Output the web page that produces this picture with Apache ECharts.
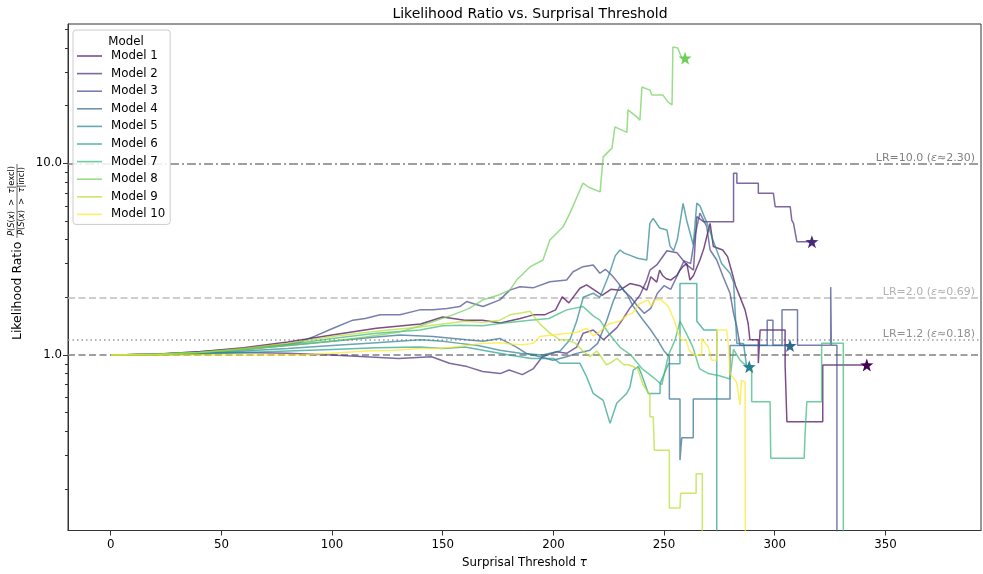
<!DOCTYPE html>
<html>
<head>
<meta charset="utf-8">
<script src="https://cdn.jsdelivr.net/npm/echarts@6/dist/echarts.min.js"></script>
<style>
  html, body { margin: 0; padding: 0; background: #ffffff; }
  #chart { width: 983px; height: 574px; }
</style>
</head>
<body>
<div id="chart"></div>
<script>
const FONT = '"DejaVu Sans", sans-serif';

// ---- data -------------------------------------------------------------
const modelNames = ['Model 1', 'Model 2', 'Model 3', 'Model 4', 'Model 5',
                    'Model 6', 'Model 7', 'Model 8', 'Model 9', 'Model 10'];
const modelColors = ['#440154', '#482878', '#3e4989', '#31688e', '#26828e',
                     '#1f9e89', '#35b779', '#6ece58', '#b5de2b', '#fde725'];

// [threshold tau, likelihood ratio]; a ratio of 0 means no excluded samples remain
const model1 = [[0,1],[20,1.01],[40,1.04],[60,1.09],[80,1.17],[100,1.27],[120,1.38],[140,1.45],[150,1.58],[160,1.52],[168,1.52],[176,1.47],[185,1.55],[191,1.62],[196,1.62],[201,1.72],[204,2.01],[207,1.87],[212,2.23],[215,2.32],[219.6,2.14],[222,2.05],[226,2.2],[230,2.18],[234.6,2.36],[239,2.3],[242.2,2.18],[244,2.56],[246.7,2.4],[248,2.77],[249.3,2.6],[251,2.5],[253,2.46],[255.8,2.6],[257.2,2.77],[258.6,2.9],[260.3,3.0],[261.7,2.46],[263.3,2.6],[266.2,3.13],[268,3.6],[269.3,4.15],[270.8,4.86],[272.3,3.68],[276.5,3.53],[278.7,3.26],[280.8,2.67],[282.3,2.3],[284.3,2.01],[286.6,1.72],[288,1.46],[288.8,1.2],[292.6,1.2],[292.6,0.905],[293.4,0.905],[293.4,1.35],[304.7,1.35],[304.7,0.887],[305.5,0.887],[305.5,0.449],[321.7,0.449],[321.7,0.887],[341.6,0.887]];
const model2 = [[0,1],[20,1.01],[40,1.02],[60,1.03],[80,1.02],[100,1.0],[115,0.98],[130,0.96],[145,0.98],[153,0.905],[161,0.87],[168,0.82],[176,0.8],[180,0.835],[186,0.79],[191,0.85],[195,0.98],[201.5,1.04],[206,1.02],[210.5,1.1],[213.5,1.3],[218,1.35],[219.6,1.3],[222.6,1.2],[228.7,1.39],[231.7,1.56],[234.6,1.76],[239.1,2.05],[242.2,2.46],[243.6,2.77],[246.7,2.95],[251.3,3.5],[255.8,3.42],[260.3,2.95],[263.3,2.77],[264.8,5.27],[267.8,4.96],[281.4,4.96],[281.4,8.87],[282.9,8.87],[282.9,7.87],[292.6,7.87],[292.6,6.98],[299.4,6.98],[300.2,5.94],[307,5.94],[307.7,5.06],[308.5,4.86],[310,3.9],[316.8,3.9]];
const model3 = [[0,1],[20,1.01],[40,1.04],[60,1.08],[80,1.14],[85.6,1.17],[92,1.25],[100.5,1.38],[109.4,1.52],[115,1.55],[121.7,1.62],[130.7,1.62],[139.6,1.72],[145.6,1.72],[152,1.75],[157.7,1.79],[160.8,1.9],[164,1.85],[168.2,1.79],[175.8,1.94],[180.3,2.18],[184.9,2.27],[190.8,2.24],[198.4,2.41],[206,2.46],[208.9,2.72],[213.4,2.89],[218,2.95],[221,2.67],[223.5,2.8],[226.5,2.6],[229,2.4],[232,2.15],[235,2.0],[238,1.8],[241,1.65],[244,1.75],[247,2.1],[250,2.3],[253,2.2],[256,2.6],[259,3.1],[262,3.0],[264,4.2],[266.2,5.5],[269.3,4.67],[270.8,3.53],[273.8,3.13],[276.7,2.56],[279.8,2.1],[281.4,1.65],[282.9,1.4],[284.3,1.124],[296.6,1.124],[296.6,1.52],[299.2,1.52],[299.2,1.124],[303.3,1.124],[303.3,1.72],[310.3,1.72],[310.3,1.124],[325.3,1.124],[325.3,2.26],[325.6,1.124],[328.1,1.124],[328.1,0]];
const model4 = [[0,1],[20,1.01],[40,1.03],[60,1.07],[80,1.12],[100,1.18],[120,1.24],[130.7,1.27],[145.6,1.25],[160.8,1.2],[168.2,1.18],[175.8,1.22],[183.3,1.1],[187.8,1.02],[193.9,0.98],[199.8,0.94],[206,0.98],[210.5,1.02],[216.5,1.06],[220,1.15],[224,1.5],[227,1.9],[230,2.3],[233,2.1],[236,1.8],[240,1.55],[244,1.35],[247,1.2],[250,1.05],[252.4,0.98],[252.4,0.59],[257.2,0.59],[257.2,0.283],[258,0.283],[258,0.37],[263.2,0.37],[263.2,0.59],[279.8,0.59],[279.8,1.12],[306.9,1.12]];
const model5 = [[0,1],[20,1.0],[40,1.02],[60,1.05],[80,1.08],[100,1.12],[120,1.16],[140,1.2],[150,1.18],[157.7,1.15],[166,1.12],[175.8,1.06],[185,1.02],[195,1.0],[203,1.05],[207.5,1.2],[210.5,1.5],[213.5,2.0],[218,2.1],[221,2.0],[225,2.6],[228,3.3],[230.1,3.53],[232,3.4],[235,3.3],[238,3.2],[242.2,3.13],[243.6,4.86],[245.1,5.16],[248,4.6],[251.3,4.49],[252.7,3.7],[254.3,3.5],[256,4.0],[258.6,6.18],[260.3,5.0],[263.2,3.75],[264.8,6.2],[266.2,6.0],[267.8,5.4],[270,4.7],[272,4.0],[276,3.0],[279.8,2.67],[281.4,2.4],[282.9,1.15],[285.9,1.15],[287.3,0.869],[288.5,0.869]];
const model6 = [[0,1],[20,1.0],[40,1.01],[60,1.03],[80,1.05],[100,1.07],[120,1.09],[139.7,1.1],[150,1.08],[160,1.1],[170,1.05],[180,1.0],[190,0.96],[200,0.96],[203,0.905],[212,0.905],[215,0.77],[218,0.63],[222.5,0.58],[225.6,0.44],[228.6,0.56],[233.1,0.63],[234.6,0.68],[236.1,0.835],[238.4,0.87],[239.9,0.79],[242.9,0.63],[248.2,0.63],[248.2,0.71],[252,0.9],[257.2,0.9],[257.2,2.36],[264.8,2.36],[264.8,1.5],[268,1.35],[273.8,1.35],[273.8,0]];
const model7 = [[0,1],[20,1.01],[40,1.03],[60,1.07],[80,1.13],[100,1.22],[120,1.3],[139.7,1.35],[150,1.42],[157.7,1.43],[168,1.42],[175.8,1.46],[189.4,1.52],[198,1.55],[206,1.72],[213.4,1.79],[218,1.6],[221,1.52],[225,1.3],[230,1.1],[235,1.0],[240,0.85],[243,0.8],[246,0.75],[249,0.7],[252,1.0],[255,1.2],[257.2,1.5],[260,1.3],[263,1.1],[266,0.85],[270,0.8],[275,0.78],[279.8,0.75],[281.4,1.07],[284.3,0.94],[287,0.88],[289.6,0.88],[289.6,0.571],[297.9,0.571],[298.2,0.289],[313.3,0.289],[313.7,0.383],[314.5,0.571],[321.2,0.571],[321.2,1.151],[331,1.151],[331,0]];
const model8 = [[0,1],[20,1.01],[40,1.03],[60,1.07],[80,1.12],[100,1.18],[115,1.24],[130.7,1.32],[140,1.42],[154.6,1.62],[162,1.75],[168.2,1.94],[175,2.05],[180.3,2.18],[183.4,2.46],[189.4,2.88],[195.3,3.13],[198.4,3.98],[201.6,4.33],[204.3,4.65],[207.5,5.5],[212,7.26],[213.4,7.88],[216,7.5],[221.1,7.1],[222.5,10.8],[226.5,12.0],[227.8,15.5],[233.2,14.5],[233.7,19.0],[237.8,17.4],[239.1,16.8],[240,25.0],[243.6,24.1],[244.5,22.7],[249.5,22.7],[251.7,20.9],[253.6,20.2],[254,40.4],[256.2,40],[258,35.4],[259.5,35.4]];
const model9 = [[0,1],[20,1.01],[40,1.03],[60,1.08],[80,1.15],[100,1.25],[120,1.33],[139.7,1.4],[150,1.45],[160,1.5],[168,1.48],[175.8,1.52],[180.4,1.62],[186,1.66],[189.4,1.69],[191,1.6],[194,1.45],[198.4,1.3],[203,1.2],[206,1.2],[210,1.15],[213.4,1.05],[216.5,0.98],[219.6,1.05],[221,1.0],[222.5,0.94],[224,0.89],[226.5,0.92],[228.7,0.96],[231.8,0.89],[234,0.89],[238,0.85],[240.5,0.7],[243.6,0.62],[243.6,0.476],[245.1,0.476],[245.6,0.319],[252.4,0.319],[252.4,0.159],[257.2,0.159],[257.5,0.19],[264.5,0.19],[264.5,0.24],[267.3,0.24],[267.3,0]];
const model10 = [[0,1],[20,1.0],[40,1.0],[60,1.0],[85.5,1.0],[100,1.02],[115,1.05],[128,1.06],[139.7,1.08],[148,1.08],[155,1.1],[160.8,1.12],[168.2,1.15],[175.8,1.16],[180.4,1.14],[186,1.13],[190.8,1.15],[193.9,1.25],[201.5,1.28],[210.6,1.31],[215.2,1.38],[218,1.26],[220,1.3],[225,1.45],[230,1.5],[233.5,1.62],[235.8,1.65],[239,1.85],[242.7,1.94],[244.3,1.8],[245.7,1.94],[248.7,1.94],[251.8,1.8],[254.8,1.5],[256.3,1.3],[257.8,1.2],[260,1.2],[261.3,1.06],[263.6,1.0],[267,1.0],[267,1.22],[270,1.1],[271.5,0.94],[273.8,0.94],[273.8,1.35],[278.3,1.35],[279,1.15],[279.8,0.8],[282.8,0.72],[284.3,0.55],[285,0.74],[286.6,0.72],[286.6,0.37],[287.3,0.37],[287.3,0]];
const modelData = [model1, model2, model3, model4, model5, model6, model7, model8, model9, model10];

// models whose final point is marked with a star
const starModels = [0, 1, 3, 4, 7];

// reference likelihood-ratio levels and the unity baseline
const refLevels = [10.0, 2.0, 1.2];
const baselineLevel = 1.0;

// axis ticks
const xTicks = [0, 50, 100, 150, 200, 250, 300, 350];
const yMajorTicks = [1, 10];
const yMinorTicks = [0.2, 0.3, 0.4, 0.5, 0.6, 0.7, 0.8, 0.9, 2, 3, 4, 5, 6, 7, 8, 9, 20, 30, 40, 50];

// ---- view ranges --------------------------------------------------------
const X_MIN = -19.3, X_MAX = 393.2;
const Y_MIN = 0.1215, Y_MAX = 53.3;
const LOG_FLOOR = 1e-3;   // ratios of 0 run off the bottom of the log axis

// ---- build --------------------------------------------------------------
const chart = echarts.init(document.getElementById('chart'), null, { renderer: 'canvas' });

const lineSeries = modelData.map((pts, i) => ({
  type: 'line',
  name: modelNames[i],
  data: pts.map(p => [p[0], p[1] > 0 ? p[1] : LOG_FLOOR]),
  showSymbol: false,
  symbol: 'none',
  clip: true,
  z: 2,
  lineStyle: { width: 1.5, color: modelColors[i], opacity: 0.7 },
  itemStyle: { color: modelColors[i], opacity: 0.7 },
  emphasis: { disabled: true },
  animation: false
}));

const STAR = 'path://M0,-10L2.35,-3.24L9.51,-3.09L3.8,1.24L5.88,8.09L0,4L-5.88,8.09L-3.8,1.24L-9.51,-3.09L-2.35,-3.24Z';
const starSeries = {
  type: 'scatter',
  name: 'end',
  symbol: STAR,
  symbolSize: 13,
  z: 3,
  data: starModels.map(i => {
    const last = modelData[i][modelData[i].length - 1];
    return { value: [last[0], last[1]], itemStyle: { color: modelColors[i], opacity: 1 } };
  }),
  emphasis: { disabled: true },
  animation: false
};

const refStyles = [
  { color: '#7f7f7f', type: [9, 3, 2, 3], label: '#808080' },
  { color: '#bdbdbd', type: [7, 3.5], label: '#b0b0b0' },
  { color: '#9a9a9a', type: [1.5, 3], label: '#909090' }
];
const refLineData = refLevels.map((lr, k) => ({
  yAxis: lr,
  lineStyle: { color: refStyles[k].color, type: refStyles[k].type, width: 1.5 },
  label: {
    show: true,
    position: 'insideEndTop',
    distance: [6, 0],
    formatter: 'LR=' + lr.toFixed(1) + ' ({i|ε}≈' + Math.log(lr).toFixed(2) + ')',
    color: refStyles[k].label,
    fontFamily: FONT,
    fontSize: 11,
    rich: { i: { fontStyle: 'italic', color: refStyles[k].label, fontFamily: FONT, fontSize: 11 } }
  }
}));
refLineData.push({
  yAxis: baselineLevel,
  lineStyle: { color: '#808080', type: [7, 3.5], width: 1.5 },
  label: { show: false }
});

const refSeries = {
  type: 'line',
  name: 'reference',
  data: [],
  z: 1,
  markLine: {
    silent: true,
    z: 1,
    symbol: ['none', 'none'],
    animation: false,
    data: refLineData
  }
};

const axisText = { color: '#000', fontFamily: FONT, fontSize: 11.8 };
const fracFont = '8.3px ' + FONT;
const fracItalic = 'italic 8.3px ' + FONT;

const option = {
  animation: false,
  backgroundColor: '#ffffff',
  title: [
    { text: 'Likelihood Ratio vs. Surprisal Threshold', left: 525, top: 2, textAlign: 'center',
      textStyle: { color: '#000', fontFamily: FONT, fontSize: 14, fontWeight: 'normal' } },
    { text: 'Model', left: 121, top: 31, textAlign: 'center', z: 10,
      textStyle: { color: '#000', fontFamily: FONT, fontSize: 11.8, fontWeight: 'normal' } }
  ],
  grid: { left: 68, right: 2, top: 24, bottom: 43.5, containLabel: false,
          show: true, borderColor: '#333', borderWidth: 1, backgroundColor: 'transparent' },
  legend: {
    orient: 'vertical', left: 73, top: 30, z: 8,
    data: modelNames,
    icon: 'path://M0,0L25,0L25,1.6L0,1.6Z',
    itemWidth: 25, itemHeight: 14, itemGap: 5.6,
    padding: [20, 5, 4, 4],
    backgroundColor: 'rgba(255,255,255,0.85)',
    borderColor: '#cccccc', borderWidth: 1, borderRadius: 3,
    selectedMode: false,
    textStyle: { color: '#000', fontFamily: FONT, fontSize: 11.8, padding: [0, 0, 0, 4] }
  },
  xAxis: {
    type: 'value', min: X_MIN, max: X_MAX,
    name: 'Surprisal Threshold {i|τ}', nameLocation: 'middle', nameGap: 26,
    nameTextStyle: { color: '#000', fontFamily: FONT, fontSize: 11.8,
                     rich: { i: { fontStyle: 'italic', fontFamily: FONT, fontSize: 11.8, color: '#000' } } },
    axisLine: { onZero: false, lineStyle: { color: '#333', width: 1 } },
    axisTick: { customValues: xTicks, length: 5, lineStyle: { color: '#333' } },
    axisLabel: Object.assign({ customValues: xTicks, margin: 8 }, axisText),
    splitLine: { show: false }
  },
  yAxis: [
    {
      type: 'log', logBase: 10, min: Y_MIN, max: Y_MAX, position: 'left',
      axisLine: { show: true, onZero: false, lineStyle: { color: '#333', width: 1 } },
      axisTick: { customValues: yMajorTicks, length: 5, lineStyle: { color: '#333' } },
      axisLabel: Object.assign({ customValues: yMajorTicks, margin: 6,
                                 formatter: v => Number(v).toFixed(1) }, axisText),
      splitLine: { show: false }
    },
    {
      type: 'log', logBase: 10, min: Y_MIN, max: Y_MAX, position: 'left',
      axisLine: { show: false, onZero: false },
      axisTick: { customValues: yMinorTicks, length: 3, lineStyle: { color: '#333' } },
      axisLabel: { show: false },
      splitLine: { show: false }
    }
  ],
  graphic: [{
    type: 'group',
    x: 17.5, y: 340,
    rotation: Math.PI / 2,
    silent: true,
    children: [
      { type: 'text', style: { text: 'Likelihood Ratio', x: 0, y: 0, align: 'left', verticalAlign: 'middle',
                               font: '12.4px ' + FONT, fill: '#000' } },
      { type: 'text', style: { text: '{i|P}({i|S}({i|x})  >  {i|τ}|excl)', x: 139, y: -5.5, align: 'center',
                               verticalAlign: 'middle', font: fracFont, fill: '#000',
                               rich: { i: { font: fracItalic } } } },
      { type: 'line', shape: { x1: 102, y1: -0.5, x2: 176, y2: -0.5 }, style: { stroke: '#000', lineWidth: 0.6 } },
      { type: 'text', style: { text: '{i|P}({i|S}({i|x})  >  {i|τ}|incl)', x: 139, y: 4.5, align: 'center',
                               verticalAlign: 'middle', font: fracFont, fill: '#000',
                               rich: { i: { font: fracItalic } } } }
    ]
  }],
  series: [refSeries].concat(lineSeries, [starSeries])
};

chart.setOption(option);
</script>
</body>
</html>
